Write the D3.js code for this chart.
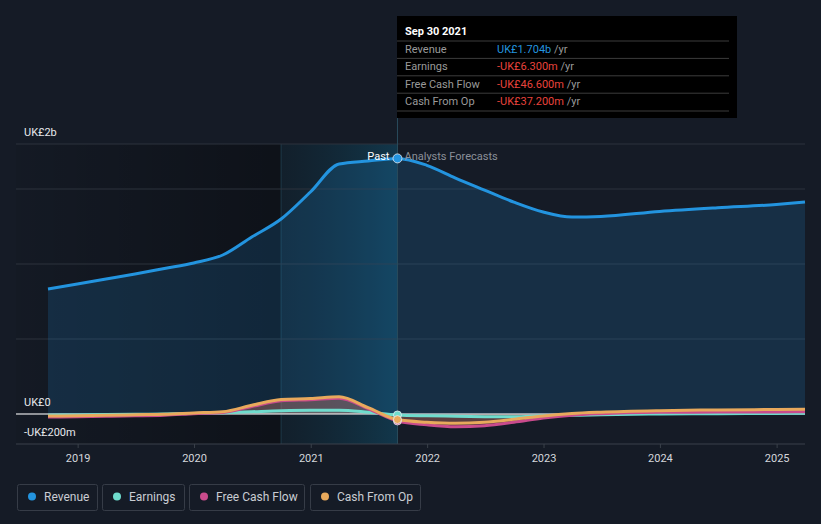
<!DOCTYPE html>
<html>
<head>
<meta charset="utf-8">
<script src="https://cdn.jsdelivr.net/npm/d3@7"></script>
<style>
  body { margin: 0; background: #151b26; }
  svg { display: block; font-family: Roboto, "Noto Sans", sans-serif; }
</style>
</head>
<body>
<svg id="chart" width="821" height="524"></svg>
<script>
// quarterly dates, past up to 2021-09-30, forecasts after it
const dates = ["2018-09-30","2018-12-31","2019-03-31","2019-06-30","2019-09-30","2019-12-31",
  "2020-03-31","2020-06-30","2020-09-30","2020-12-31","2021-03-31","2021-06-30","2021-09-30",
  "2021-12-31","2022-03-31","2022-06-30","2022-09-30","2022-12-31","2023-03-31","2023-06-30",
  "2023-12-31","2024-06-30","2024-12-31","2025-03-31"];

// values in UK£ millions
const revenue = [833, 867, 900, 933, 970, 1007, 1060, 1180, 1300, 1480, 1667, 1687, 1704,
  1658, 1573, 1493, 1413, 1347, 1313, 1317, 1350, 1375, 1397, 1413];
const earnings = [-8, -6, -4, -2, 0, 3, 8, 15, 22, 25, 25, 12, -6.3,
  -12, -15, -18, -19, -12, -9, -5, 0, 2, 4, 5];
const freeCashFlow = [-20, -18, -15, -12, -8, 2, 10, 50, 88, 95, 105, 35, -46.6,
  -72, -85, -78, -55, -27, -8, 2, 11, 13, 14, 15];
const cashFromOp = [-13, -12, -9, -5, -2, 7, 15, 58, 97, 103, 115, 42, -37.2,
  -55, -62, -55, -35, -13, 3, 12, 22, 27, 30, 31];

const yearTicks = ["2019","2020","2021","2022","2023","2024","2025"];
const yGrid = [0, 500, 1000, 1500, 1800];
const yLabels = [["UK£2b", 1800], ["UK£0", 0], ["-UK£200m", -200]];

const highlightStart = "2020-09-30";
const pastEnd = "2021-09-30";

const tipRows = [
  ["Revenue", "UK£1.704b", "#2394df"],
  ["Earnings", "-UK£6.300m", "#e8433c"],
  ["Free Cash Flow", "-UK£46.600m", "#e8433c"],
  ["Cash From Op", "-UK£37.200m", "#e8433c"]
];

const series = [
  { name: "Revenue", values: revenue, color: "#2394df", fill: 0.17 },
  { name: "Earnings", values: earnings, color: "#6fdccd", fill: 0.18 },
  { name: "Free Cash Flow", values: freeCashFlow, color: "#c94b8c", fill: 0.2 },
  { name: "Cash From Op", values: cashFromOp, color: "#e8a95c", fill: 0.2 }
];

const parse = d3.timeParse("%Y-%m-%d");
const plotLeft = 16, plotRight = 805, plotTop = 144, plotBottom = 444;

const x = d3.scaleTime()
  .domain([parse(dates[0]), parse(dates[dates.length - 1])])
  .range([48, plotRight]);
const y = d3.scaleLinear().domain([-200, 1800]).range([plotBottom, plotTop]);

const svg = d3.select("#chart");
const defs = svg.append("defs");

svg.append("rect").attr("width", 821).attr("height", 524).attr("fill", "#151b26");

const xHi = x(parse(highlightStart));
const xPast = x(parse(pastEnd));

// darker past region
const pastGrad = defs.append("linearGradient").attr("id", "pastGrad");
pastGrad.append("stop").attr("offset", "0%").attr("stop-color", "#000").attr("stop-opacity", 0.05);
pastGrad.append("stop").attr("offset", "100%").attr("stop-color", "#000").attr("stop-opacity", 0.35);
svg.append("rect")
  .attr("x", plotLeft).attr("y", plotTop).attr("width", xHi - plotLeft).attr("height", plotBottom - plotTop)
  .attr("fill", "url(#pastGrad)");

// highlighted last year of past
const hiGrad = defs.append("linearGradient").attr("id", "hiGrad");
hiGrad.append("stop").attr("offset", "0%").attr("stop-color", "#0c2a38").attr("stop-opacity", 0.3);
hiGrad.append("stop").attr("offset", "100%").attr("stop-color", "#0f4e6a").attr("stop-opacity", 0.55);
svg.append("rect")
  .attr("x", xHi).attr("y", plotTop).attr("width", xPast - xHi).attr("height", plotBottom - plotTop)
  .attr("fill", "url(#hiGrad)");
svg.append("line")
  .attr("x1", xHi).attr("x2", xHi).attr("y1", plotTop).attr("y2", plotBottom)
  .attr("stroke", "#1d3a48").attr("stroke-width", 1);

// gridlines
svg.append("g").selectAll("line").data(yGrid).enter().append("line")
  .attr("x1", plotLeft).attr("x2", plotRight)
  .attr("y1", (d) => y(d)).attr("y2", (d) => y(d))
  .attr("stroke", "#2c323d").attr("stroke-width", 1);

const pts = (vals) => vals.map((v, i) => ({ date: parse(dates[i]), v: v }));

const area = d3.area().curve(d3.curveMonotoneX)
  .x((d) => x(d.date)).y0(y(0)).y1((d) => y(d.v));
const line = d3.line().curve(d3.curveMonotoneX)
  .x((d) => x(d.date)).y((d) => y(d.v));

series.forEach((s) => {
  svg.append("path").datum(pts(s.values))
    .attr("d", area)
    .attr("fill", s.color).attr("fill-opacity", s.fill);
});

// zero line
svg.append("line")
  .attr("x1", plotLeft).attr("x2", plotRight).attr("y1", y(0)).attr("y2", y(0))
  .attr("stroke", "#ffffff").attr("stroke-width", 1.2);

series.forEach((s) => {
  svg.append("path").datum(pts(s.values))
    .attr("d", line)
    .attr("fill", "none")
    .attr("stroke", s.color).attr("stroke-width", 3)
    .attr("stroke-linejoin", "round");
});

// past / forecast divider
svg.append("line")
  .attr("x1", xPast).attr("x2", xPast).attr("y1", 118).attr("y2", plotBottom)
  .attr("stroke", "#2a4c5c").attr("stroke-width", 1);

const iPast = dates.indexOf(pastEnd);
series.forEach((s) => {
  svg.append("circle")
    .attr("cx", xPast).attr("cy", y(s.values[iPast]))
    .attr("r", s.name === "Revenue" ? 4.5 : 4)
    .attr("fill", s.color)
    .attr("stroke", "#e8eef2").attr("stroke-width", 1).attr("stroke-opacity", 0.8);
});

svg.append("text").attr("x", xPast - 8).attr("y", 160)
  .attr("text-anchor", "end").attr("font-size", 11).attr("fill", "#ffffff").text("Past");
svg.append("text").attr("x", xPast + 7).attr("y", 160)
  .attr("font-size", 11).attr("fill", "#8b9099").text("Analysts Forecasts");

// y labels
svg.append("g").selectAll("text").data(yLabels).enter().append("text")
  .attr("x", 24).attr("y", (d) => y(d[1]) - 8)
  .attr("font-size", 11).attr("fill", "#e6e8eb")
  .text((d) => d[0]);

// x axis
const xAxis = d3.axisBottom(x)
  .tickValues(yearTicks.map((t) => parse(t + "-01-01")))
  .tickFormat(d3.timeFormat("%Y"))
  .tickSize(4).tickSizeOuter(0);
const gx = svg.append("g").attr("transform", "translate(0," + plotBottom + ")").call(xAxis);
gx.select(".domain").remove();
gx.selectAll(".tick line").attr("stroke", "#3a404a");
gx.selectAll(".tick text").attr("fill", "#d4d7dc").attr("font-size", 11)
  .attr("font-family", "Roboto, sans-serif").attr("dy", "1.0em");
svg.append("line")
  .attr("x1", plotLeft).attr("x2", plotRight).attr("y1", plotBottom).attr("y2", plotBottom)
  .attr("stroke", "#3a404a").attr("stroke-width", 1);

// tooltip
const tip = svg.append("g").attr("transform", "translate(397,16)");
tip.append("rect").attr("width", 340).attr("height", 102).attr("fill", "#000000");
tip.append("text").attr("x", 8).attr("y", 19)
  .attr("font-size", 11).attr("font-weight", "bold").attr("fill", "#ffffff").text("Sep 30 2021");
tipRows.forEach((r, i) => {
  const ry = 25 + i * 17.4;
  tip.append("line").attr("x1", 0).attr("x2", 332).attr("y1", ry).attr("y2", ry)
    .attr("stroke", "#3c3c3c");
  tip.append("text").attr("x", 8).attr("y", ry + 12)
    .attr("font-size", 11).attr("fill", "#9a9a9a").text(r[0]);
  const t = tip.append("text").attr("x", 100).attr("y", ry + 12).attr("font-size", 11);
  t.append("tspan").attr("fill", r[2]).text(r[1]);
  t.append("tspan").attr("fill", "#9a9a9a").text(" /yr");
});
tip.append("line").attr("x1", 0).attr("x2", 332).attr("y1", 95).attr("y2", 95)
  .attr("stroke", "#3c3c3c");

// legend
const legendX = [17, 102, 189, 310];
const legendW = [80, 82, 115, 110];
const legend = svg.append("g").selectAll("g").data(series).enter().append("g")
  .attr("transform", (d, i) => "translate(" + legendX[i] + ",484)");
legend.append("rect")
  .attr("x", 0.5).attr("y", 0.5).attr("width", (d, i) => legendW[i]).attr("height", 26)
  .attr("rx", 2).attr("fill", "none").attr("stroke", "#363c47");
legend.append("circle").attr("cx", 15).attr("cy", 12.5).attr("r", 4)
  .attr("fill", (d) => d.color);
legend.append("text").attr("x", 27).attr("y", 16.5)
  .attr("font-size", 12).attr("fill", "#c9cdd3").text((d) => d.name);
</script>
</body>
</html>
